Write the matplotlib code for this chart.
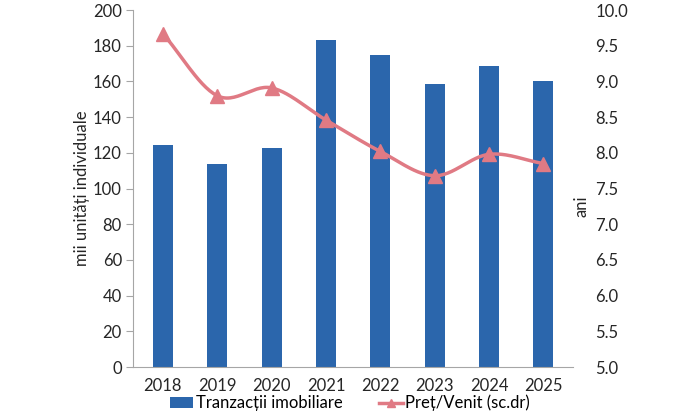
import matplotlib.pyplot as plt
import numpy as np

# Data
years = ['2018', '2019', '2020', '2021', '2022', '2023', '2024', '2025']
tranzactii = [124.5, 113.5, 123, 183, 175, 158.5, 168.5, 160]
pret_venit = [9.67, 8.80, 8.91, 8.46, 8.02, 7.68, 7.98, 7.85]

plt.rcParams['font.family'] = ['Lato', 'DejaVu Sans']

# Catmull-Rom smoothing, similar to Excel smoothed lines
def smooth(x, y, n=30):
    x = np.asarray(x, float)
    y = np.asarray(y, float)
    px = np.concatenate([[2 * x[0] - x[1]], x, [2 * x[-1] - x[-2]]])
    py = np.concatenate([[2 * y[0] - y[1]], y, [2 * y[-1] - y[-2]]])
    xs, ys = [], []
    t = np.linspace(0, 1, n)
    for i in range(1, len(px) - 2):
        for p, out in ((px, xs), (py, ys)):
            p0, p1, p2, p3 = p[i - 1], p[i], p[i + 1], p[i + 2]
            out.extend(0.5 * ((2 * p1) + (-p0 + p2) * t
                              + (2 * p0 - 5 * p1 + 4 * p2 - p3) * t ** 2
                              + (-p0 + 3 * p1 - 3 * p2 + p3) * t ** 3))
    return np.array(xs), np.array(ys)

bar_color = '#2B66AC'
line_color = '#E07A84'
grey = '#A6A6A6'
txt = '#262626'
fs = 12

fig = plt.figure(figsize=(7, 4.2), dpi=100)
ax = fig.add_axes([0.19, 0.126, 0.629, 0.850])
x = np.arange(len(years))
bars = ax.bar(x, tranzactii, width=0.37, color=bar_color, zorder=2)
ax.set_ylim(0, 200)
ax.set_yticks(range(0, 201, 20))
ax.set_xlim(-0.55, len(years) - 0.45)
ax.set_xticks(x)
ax.set_xticklabels(years)
ax.set_ylabel('mii unități individuale', fontsize=fs, color=txt, labelpad=2)
for s in ['top', 'right']:
    ax.spines[s].set_visible(False)
ax.spines['left'].set_color(grey)
ax.spines['bottom'].set_color(grey)
ax.tick_params(axis='y', colors=grey, labelcolor=txt, labelsize=fs, length=5, pad=3)
ax.tick_params(axis='x', length=0, labelcolor=txt, labelsize=fs, pad=8)

ax2 = ax.twinx()
ax2.set_ylim(5.0, 10.0)
ticks2 = np.arange(5.0, 10.01, 0.5)
ax2.set_yticks(ticks2)
ax2.set_yticklabels([f'{v:.1f}' for v in ticks2])
for s in ['top', 'right', 'left', 'bottom']:
    ax2.spines[s].set_visible(False)
ax2.tick_params(axis='y', length=0, labelcolor=txt, labelsize=fs, pad=16)
sx, sy = smooth(x, pret_venit)
ax2.plot(sx, sy, color=line_color, lw=2.5, zorder=3)
ax2.plot(x, pret_venit, linestyle='None', color=line_color, marker='^',
         markersize=10, zorder=4)
ax2.set_ylabel('ani', fontsize=fs, color=txt, rotation=90)
ax2.yaxis.set_label_coords(1.0, 0.45)

legend_line = plt.Line2D([], [], color=line_color, lw=2.5, marker='^', markersize=6)
fig.legend([bars, legend_line], ['Tranzacții imobiliare', 'Preț/Venit (sc.dr)'],
           loc='lower center', bbox_to_anchor=(0.5, -0.015), ncol=2, frameon=False,
           fontsize=fs, handlelength=1.4, handleheight=0.6, columnspacing=2.2,
           handletextpad=0.15)

fig.savefig('out.png', dpi=100)
